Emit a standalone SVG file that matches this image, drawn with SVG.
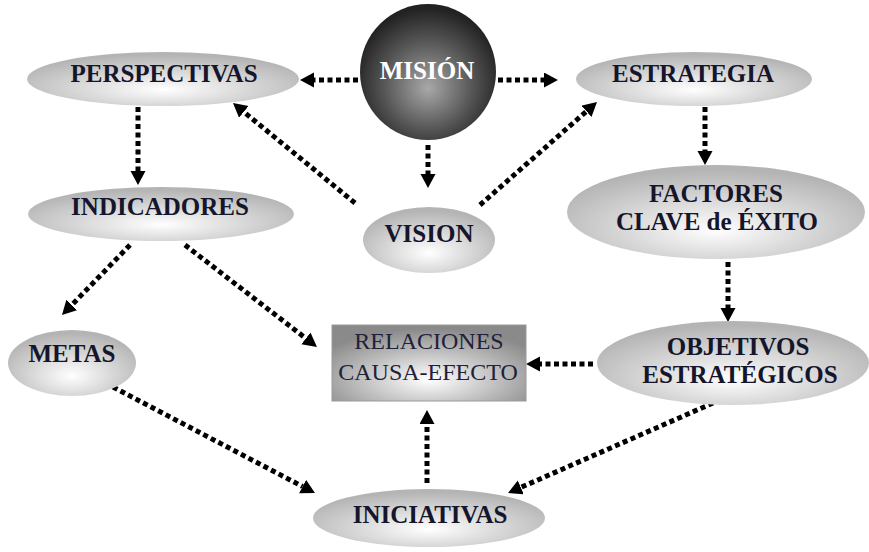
<svg xmlns="http://www.w3.org/2000/svg" width="869" height="552" viewBox="0 0 869 552">
<style>
.ell{fill:url(#gEll)}
.con{fill:none;stroke:#000;stroke-width:5;stroke-dasharray:5 3.5;marker-end:url(#arr)}
</style>
<defs>
<radialGradient id="gEll" cx="50%" cy="65%" r="60%" fx="50%" fy="70%">
<stop offset="0" stop-color="#ffffff"/>
<stop offset="1" stop-color="#b4b4b4"/>
</radialGradient>
<radialGradient id="gMis" cx="50%" cy="58%" r="55%" fx="50%" fy="62%">
<stop offset="0" stop-color="#a8a8a8"/>
<stop offset="0.6" stop-color="#555555"/>
<stop offset="1" stop-color="#222222"/>
</radialGradient>
<radialGradient id="gRel" cx="50%" cy="70%" r="65%" fx="50%" fy="72%">
<stop offset="0" stop-color="#ffffff"/>
<stop offset="1" stop-color="#8a8a8a"/>
</radialGradient>
<marker id="arr" markerUnits="userSpaceOnUse" markerWidth="15" markerHeight="16" refX="0" refY="7.5" orient="auto">
<path d="M0,0 L14,7.5 L0,15 z" fill="#000"/>
</marker>
</defs>
<g id="connectors">
<line class="con" x1="358" y1="80" x2="314" y2="80"/>
<line class="con" x1="498" y1="80" x2="544" y2="80"/>
<line class="con" x1="428" y1="145" x2="428" y2="174"/>
<line class="con" x1="355" y1="203" x2="243.8" y2="111.9"/>
<line class="con" x1="480" y1="205" x2="586.5" y2="111.25"/>
<line class="con" x1="138" y1="107" x2="138" y2="171"/>
<line class="con" x1="705" y1="107" x2="705" y2="151"/>
<line class="con" x1="728" y1="262" x2="728" y2="308"/>
<line class="con" x1="130" y1="245" x2="71.75" y2="305"/>
<line class="con" x1="185" y1="245" x2="305.9" y2="338.4"/>
<line class="con" x1="593" y1="364" x2="540" y2="364"/>
<line class="con" x1="113" y1="387" x2="302.6" y2="486.5"/>
<line class="con" x1="713" y1="403" x2="520.8" y2="487.4"/>
<line class="con" x1="427" y1="483" x2="427" y2="424"/>
</g>
<g id="mision">
<circle cx="428" cy="72" r="68" fill="url(#gMis)"/>
<text x="427" y="79" font-family="Liberation Serif, DejaVu Serif, serif" font-weight="bold" font-size="25" fill="#ffffff" text-anchor="middle">MISIÓN</text>
</g>
<g id="perspectivas">
<ellipse class="ell" cx="163" cy="79" rx="136" ry="27"/>
<text x="164" y="82" font-family="Liberation Serif, DejaVu Serif, serif" font-weight="bold" font-size="25" fill="#15152b" text-anchor="middle">PERSPECTIVAS</text>
</g>
<g id="estrategia">
<ellipse class="ell" cx="694" cy="79" rx="118" ry="27"/>
<text x="693" y="82" font-family="Liberation Serif, DejaVu Serif, serif" font-weight="bold" font-size="25" fill="#15152b" text-anchor="middle">ESTRATEGIA</text>
</g>
<g id="indicadores">
<ellipse class="ell" cx="161" cy="214" rx="133" ry="27"/>
<text x="160" y="215" font-family="Liberation Serif, DejaVu Serif, serif" font-weight="bold" font-size="25" fill="#15152b" text-anchor="middle">INDICADORES</text>
</g>
<g id="vision">
<ellipse class="ell" cx="429" cy="240" rx="66" ry="33"/>
<text x="429" y="242" font-family="Liberation Serif, DejaVu Serif, serif" font-weight="bold" font-size="25" fill="#15152b" text-anchor="middle">VISION</text>
</g>
<g id="factores">
<ellipse class="ell" cx="716" cy="212" rx="149" ry="47"/>
<text x="716" y="202" font-family="Liberation Serif, DejaVu Serif, serif" font-weight="bold" font-size="25" fill="#15152b" text-anchor="middle">FACTORES</text>
<text x="717" y="230" font-family="Liberation Serif, DejaVu Serif, serif" font-weight="bold" font-size="25" fill="#15152b" text-anchor="middle">CLAVE de ÉXITO</text>
</g>
<g id="metas">
<ellipse class="ell" cx="72" cy="363" rx="64" ry="33"/>
<text x="72" y="362" font-family="Liberation Serif, DejaVu Serif, serif" font-weight="bold" font-size="25" fill="#15152b" text-anchor="middle">METAS</text>
</g>
<g id="relaciones">
<rect x="332" y="325" width="194" height="76" fill="url(#gRel)" stroke="#9a9a9a" stroke-width="1"/>
<text x="429" y="349" font-family="Liberation Serif, DejaVu Serif, serif" font-size="24" fill="#1f2238" text-anchor="middle">RELACIONES</text>
<text x="428" y="380" font-family="Liberation Serif, DejaVu Serif, serif" font-size="24" fill="#1f2238" text-anchor="middle">CAUSA-EFECTO</text>
</g>
<g id="objetivos">
<ellipse class="ell" cx="733" cy="363" rx="136" ry="42"/>
<text x="738" y="355" font-family="Liberation Serif, DejaVu Serif, serif" font-weight="bold" font-size="25" fill="#15152b" text-anchor="middle">OBJETIVOS</text>
<text x="740" y="383" font-family="Liberation Serif, DejaVu Serif, serif" font-weight="bold" font-size="25" fill="#15152b" text-anchor="middle">ESTRATÉGICOS</text>
</g>
<g id="iniciativas">
<ellipse class="ell" cx="429" cy="518" rx="116" ry="29"/>
<text x="430" y="523" font-family="Liberation Serif, DejaVu Serif, serif" font-weight="bold" font-size="25" fill="#15152b" text-anchor="middle">INICIATIVAS</text>
</g>
</svg>
